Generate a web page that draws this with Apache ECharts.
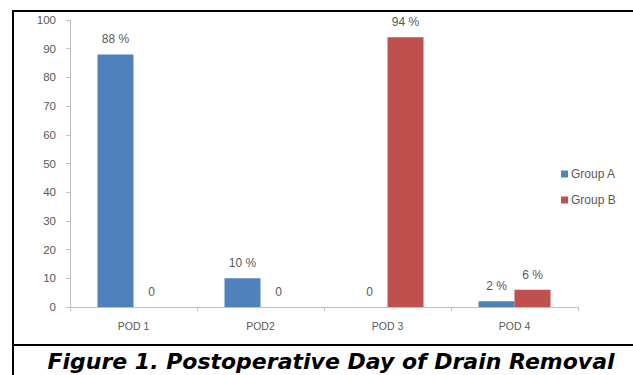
<!DOCTYPE html>
<html><head><meta charset="utf-8">
<script src="https://cdn.jsdelivr.net/npm/echarts@6/dist/echarts.min.js"></script>
<style>html,body{margin:0;padding:0;background:#fff;}#c{width:633px;height:375px;}</style>
</head><body><div id="c"></div>
<script>
const categories = ['POD 1', 'POD2', 'POD 3', 'POD 4'];
const groupA = [88, 10, 0, 2];
const groupB = [0, 0, 94, 6];
const yTicks = [0, 10, 20, 30, 40, 50, 60, 70, 80, 90, 100];
const seriesNames = ['Group A', 'Group B'];
const caption = 'Figure 1. Postoperative Day of Drain Removal';

const chart = echarts.init(document.getElementById('c'), null, {renderer: 'svg'});
const fmt = p => p.value === 0 ? '0' : p.value + ' %';
const lab = {show: true, position: 'top', distance: 9, formatter: fmt, color: '#595959', fontSize: 12, fontFamily: 'Liberation Sans'};
chart.setOption({
  animation: false,
  grid: {left: 70, right: 55, top: 20, bottom: 68},
  legend: {
    orient: 'vertical', left: 556, top: 163, itemWidth: 7, itemHeight: 7, itemGap: 14,
    icon: 'rect',
    textStyle: {color: '#595959', fontSize: 12, fontFamily: 'Liberation Sans', padding: [0,0,0,-2]},
    data: seriesNames
  },
  xAxis: {
    type: 'category', data: categories,
    axisLine: {lineStyle: {color: '#bfbfbf'}},
    axisTick: {show: true, alignWithLabel: false, length: 4, lineStyle: {color: '#bfbfbf'}},
    axisLabel: {color: '#595959', fontSize: 10.5, fontFamily: 'Liberation Sans', margin: 13}
  },
  yAxis: {
    type: 'value', min: yTicks[0], max: yTicks[yTicks.length-1], interval: 10,
    axisLine: {show: true, lineStyle: {color: '#bfbfbf'}},
    axisTick: {show: true, length: 4, lineStyle: {color: '#bfbfbf'}},
    splitLine: {show: false},
    axisLabel: {color: '#595959', fontSize: 11.5, fontFamily: 'Liberation Sans', margin: 14}
  },
  series: [
    {name: seriesNames[0], type: 'bar', data: groupA, barWidth: 36, barGap: '0%', itemStyle: {color: '#4f81bd'}, label: lab},
    {name: seriesNames[1], type: 'bar', data: groupB, barWidth: 36, itemStyle: {color: '#c0504d'}, label: lab}
  ],
  graphic: [
    {type: 'line', shape: {x1: 13, y1: 10, x2: 13, y2: 375}, style: {stroke: '#000', lineWidth: 2}},
    {type: 'line', shape: {x1: 12, y1: 11, x2: 633, y2: 11}, style: {stroke: '#000', lineWidth: 2}},
    {type: 'line', shape: {x1: 12, y1: 345, x2: 633, y2: 345}, style: {stroke: '#000', lineWidth: 2}},
    {type: 'text', x: 331, y: 361, style: {text: caption, fill: '#000', font: 'italic bold 22px "DejaVu Sans"', textAlign: 'center', textVerticalAlign: 'middle'}}
  ]
});
</script></body></html>
